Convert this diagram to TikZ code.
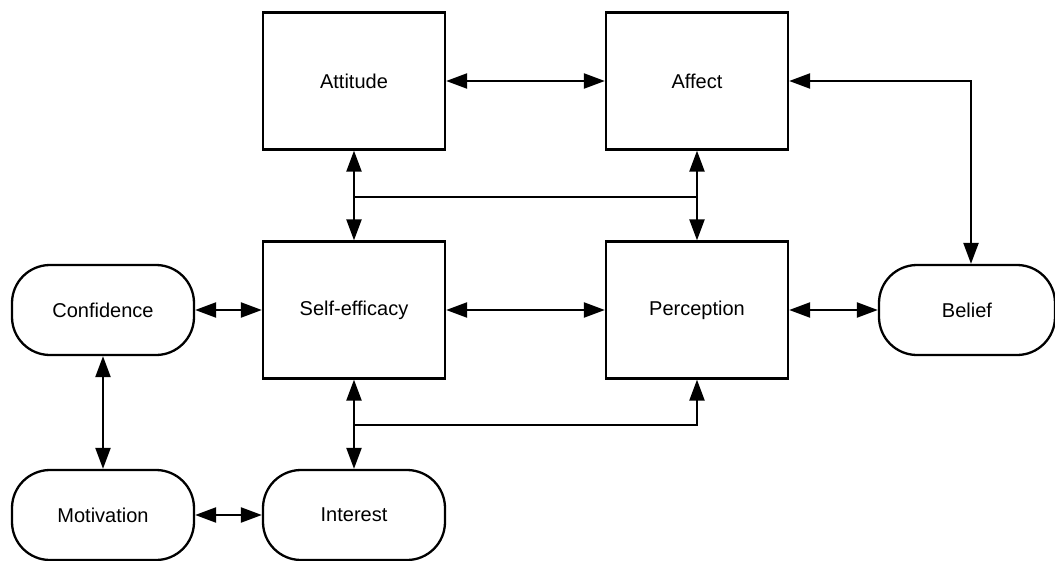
\documentclass[tikz,border=0pt]{standalone}
\usepackage{fontspec}
\setmainfont{Liberation Sans}
\usetikzlibrary{arrows.meta}
\begin{document}
\begin{tikzpicture}[x=1pt,y=-1pt,
  lbl/.style={font=\fontsize{20}{24}\selectfont},
  box/.style={lbl, draw, line width=2.3pt, minimum width=182pt, minimum height=137pt, inner sep=0pt},
  pill/.style={lbl, draw, line width=2.3pt, rounded corners=38pt, minimum width=182pt, minimum height=90pt, inner sep=0pt},
  wire/.style={line width=2.3pt},
  tip/.tip={Triangle[length=21pt,width=15pt]},
  link/.style={wire, tip-tip},
  onelink/.style={wire, -tip}]
\fill[white] (0,0) rectangle (1055,560);
\useasboundingbox (0,0) rectangle (1055,560);

\node[box]  (att)  at (354,81)    {Attitude};
\node[box]  (aff)  at (697,81)    {Affect};
\node[box]  (se)   at (354,310)   {Self-efficacy};
\node[box]  (per)  at (697,310)   {Perception};
\node[pill] (conf) at (103,310)   {Confidence};
\node[pill, minimum width=176pt] (bel) at (967,310) {Belief};
\node[pill] (mot)  at (103,515)   {Motivation};
\node[pill] (int)  at (354,515)   {Interest};

\coordinate (j1) at (354,197);
\coordinate (j2) at (354,425);
\coordinate (bt) at (971,0);

\draw[link] (att) -- (aff);
\draw[link] (aff.east) -| (bt |- bel.north);
\draw[link] (att) -- (se);
\draw[link] (aff) -- (per);
\draw[wire] (j1) -- (aff.south |- j1);
\draw[link] (conf) -- (se);
\draw[link] (se) -- (per);
\draw[link] (per) -- (bel);
\draw[link] (conf) -- (mot);
\draw[link] (mot) -- (int);
\draw[link] (se) -- (int);
\draw[onelink] (j2) -| (per.south);
\end{tikzpicture}
\end{document}
